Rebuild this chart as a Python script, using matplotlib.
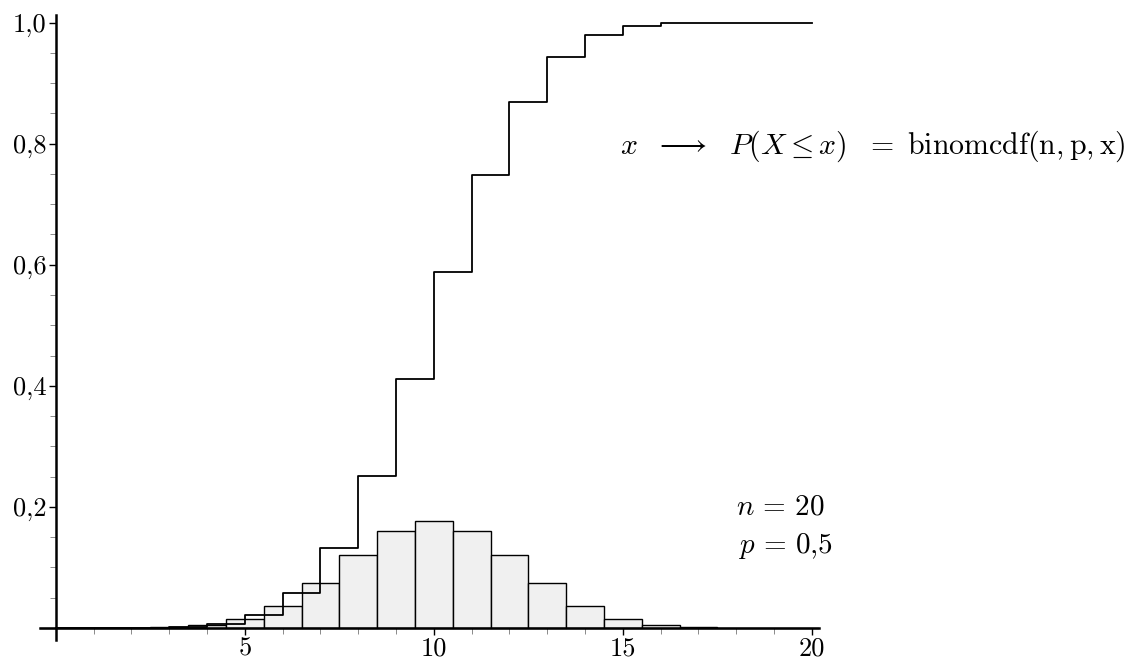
import numpy as np
import matplotlib
matplotlib.use('Agg')
import matplotlib.pyplot as plt
from matplotlib.ticker import FixedLocator, FixedFormatter, MultipleLocator

plt.rc('font', **{'family': 'serif', 'serif': ['cmr10'], 'size': 18})
plt.rc('mathtext', fontset='cm')

# binomial n = 20, p = 0.5
k = list(range(21))
pmf = [0.000001, 0.000019, 0.000181, 0.001087, 0.004621, 0.014786, 0.036964,
       0.073929, 0.120134, 0.160179, 0.176197, 0.160179, 0.120134, 0.073929,
       0.036964, 0.014786, 0.004621, 0.001087, 0.000181, 0.000019, 0.000001]
cdf = [0.000001, 0.00002, 0.000201, 0.001288, 0.005909, 0.020695, 0.057659,
       0.131588, 0.251722, 0.411901, 0.588099, 0.748278, 0.868412, 0.942341,
       0.979305, 0.994091, 0.998712, 0.999799, 0.99998, 0.999999, 1.0]

xticks = [5, 10, 15, 20]
xlabels = ['5', '10', '15', '20']
yticks = [0.2, 0.4, 0.6, 0.8, 1.0]
ylabels = ['0,2', '0,4', '0,6', '0,8', '1,0']

fig = plt.figure(figsize=(11.45, 6.61), dpi=100)
ax = fig.add_axes([40 / 1145, 1 - 640 / 661, 779 / 1145, 625 / 661])

ax.bar(k, pmf, width=1.0, facecolor='#f0f0f0', edgecolor='black', linewidth=1.0, zorder=2)
ax.step(k, cdf, where='post', color='black', linewidth=1.3, zorder=3)

ax.set_xlim(-0.42, 20.19)
ax.set_ylim(-0.0198, 1.0124)

for s in ('top', 'right'):
    ax.spines[s].set_visible(False)
ax.spines['left'].set_position(('data', 0))
ax.spines['bottom'].set_position(('data', 0))
ax.spines['left'].set_linewidth(1.8)
ax.spines['bottom'].set_linewidth(1.8)
ax.spines['left'].set_zorder(4)
ax.spines['bottom'].set_zorder(4)

ax.xaxis.set_major_locator(FixedLocator(xticks))
ax.xaxis.set_major_formatter(FixedFormatter(xlabels))
ax.xaxis.set_minor_locator(MultipleLocator(1))
ax.yaxis.set_major_locator(FixedLocator(yticks))
ax.yaxis.set_major_formatter(FixedFormatter(ylabels))
ax.yaxis.set_minor_locator(MultipleLocator(0.05))
ax.tick_params(which='major', direction='out', length=5, width=1.0, colors='black', labelsize=19, pad=2)
ax.tick_params(axis='x', which='major', pad=1)
ax.tick_params(which='minor', direction='out', length=4, width=0.6, colors='#777777')

ax.text(14.93, 0.795, r'$x\ \ \longrightarrow\ \ P(X\leq x)\ \ =\ \mathrm{binomcdf}(\mathrm{n},\mathrm{p},\mathrm{x})$',
        fontsize=21.5, ha='left', va='center', clip_on=False)
ax.text(18.0, 0.2, r'$n\,=\,20$', fontsize=21, ha='left', va='center')
ax.text(18.05, 0.135, r'$p\,=\,0{,}5$', fontsize=21, ha='left', va='center')

fig.savefig('out.png', dpi=100)
